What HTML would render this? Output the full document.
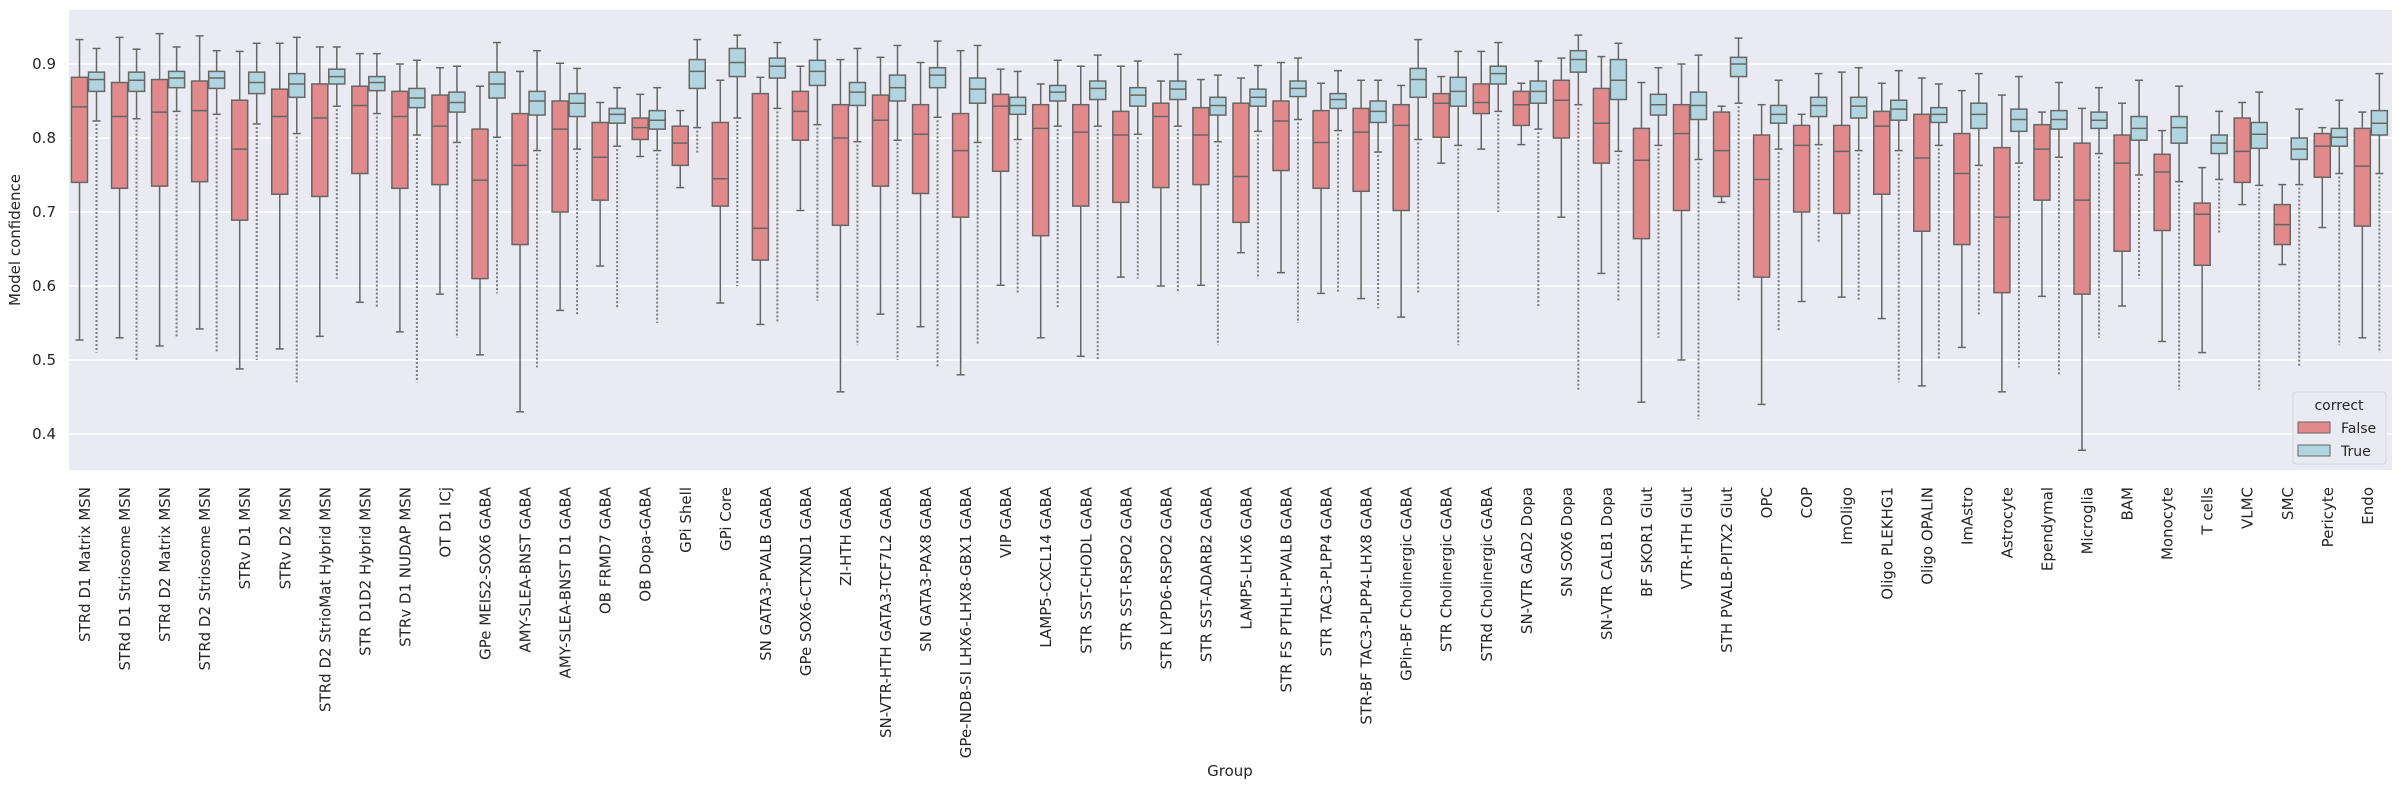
<!DOCTYPE html>
<html><head><meta charset="utf-8"><style>
html,body{margin:0;padding:0;background:#fff;}
svg{display:block;font-family:"DejaVu Sans","Liberation Sans",sans-serif;}
</style></head><body>
<svg id="chart" width="2403" height="792" viewBox="0 0 2403 792" xmlns="http://www.w3.org/2000/svg">
<rect x="69" y="10" width="2323" height="460" fill="#eaeaf2"/>
<g id="grid"></g><g id="yticks"></g><g id="boxes"></g><g id="xticks"></g>
<text x="20" y="240" font-size="15" fill="#262626" text-anchor="middle" transform="rotate(-90 20 240)">Model confidence</text>
<text x="1230" y="776" font-size="15" fill="#262626" text-anchor="middle">Group</text>
<g>
<rect x="2293" y="392" width="93" height="72" rx="3" fill="#eaeaf2" stroke="#d6d6de"/>
<text x="2339" y="410" font-size="14" fill="#262626" text-anchor="middle">correct</text>
<rect x="2298" y="422" width="32" height="11" fill="#e28a8b" stroke="#666"/>
<text x="2341" y="433" font-size="14" fill="#262626">False</text>
<rect x="2298" y="445" width="32" height="11" fill="#b0d5df" stroke="#666"/>
<text x="2341" y="456" font-size="14" fill="#262626">True</text>
</g>
</svg>
<script>
const categories = ["STRd D1 Matrix MSN","STRd D1 Striosome MSN","STRd D2 Matrix MSN","STRd D2 Striosome MSN","STRv D1 MSN","STRv D2 MSN","STRd D2 StrioMat Hybrid MSN","STR D1D2 Hybrid MSN","STRv D1 NUDAP MSN","OT D1 ICj","GPe MEIS2-SOX6 GABA","AMY-SLEA-BNST GABA","AMY-SLEA-BNST D1 GABA","OB FRMD7 GABA","OB Dopa-GABA","GPi Shell","GPi Core","SN GATA3-PVALB GABA","GPe SOX6-CTXND1 GABA","ZI-HTH GABA","SN-VTR-HTH GATA3-TCF7L2 GABA","SN GATA3-PAX8 GABA","GPe-NDB-SI LHX6-LHX8-GBX1 GABA","VIP GABA","LAMP5-CXCL14 GABA","STR SST-CHODL GABA","STR SST-RSPO2 GABA","STR LYPD6-RSPO2 GABA","STR SST-ADARB2 GABA","LAMP5-LHX6 GABA","STR FS PTHLH-PVALB GABA","STR TAC3-PLPP4 GABA","STR-BF TAC3-PLPP4-LHX8 GABA","GPin-BF Cholinergic GABA","STR Cholinergic GABA","STRd Cholinergic GABA","SN-VTR GAD2 Dopa","SN SOX6 Dopa","SN-VTR CALB1 Dopa","BF SKOR1 Glut","VTR-HTH Glut","STH PVALB-PITX2 Glut","OPC","COP","ImOligo","Oligo PLEKHG1","Oligo OPALIN","ImAstro","Astrocyte","Ependymal","Microglia","BAM","Monocyte","T cells","VLMC","SMC","Pericyte","Endo"];
const yTicks = [0.4,0.5,0.6,0.7,0.8,0.9];
const falseLo  = [0.527,0.530,0.519,0.542,0.488,0.515,0.532,0.578,0.538,0.589,0.507,0.430,0.567,0.627,0.775,0.733,0.577,0.548,0.702,0.457,0.562,0.545,0.480,0.601,0.530,0.505,0.612,0.600,0.601,0.645,0.618,0.590,0.583,0.558,0.766,0.785,0.791,0.693,0.617,0.443,0.500,0.713,0.440,0.579,0.585,0.556,0.465,0.517,0.457,0.586,0.378,0.573,0.525,0.510,0.710,0.629,0.679,0.530];
const falseQ1  = [0.740,0.732,0.735,0.741,0.689,0.724,0.721,0.752,0.732,0.737,0.610,0.656,0.700,0.716,0.798,0.763,0.708,0.635,0.797,0.682,0.735,0.725,0.693,0.755,0.668,0.708,0.713,0.733,0.737,0.686,0.756,0.732,0.728,0.702,0.801,0.833,0.817,0.800,0.766,0.664,0.702,0.721,0.612,0.700,0.698,0.724,0.674,0.656,0.591,0.716,0.589,0.647,0.675,0.628,0.740,0.656,0.747,0.681];
const falseMed = [0.842,0.829,0.835,0.837,0.785,0.829,0.827,0.844,0.829,0.816,0.743,0.763,0.812,0.774,0.814,0.793,0.745,0.678,0.836,0.800,0.824,0.805,0.783,0.843,0.813,0.808,0.804,0.829,0.804,0.748,0.823,0.794,0.808,0.817,0.847,0.848,0.845,0.851,0.820,0.770,0.806,0.783,0.744,0.790,0.782,0.816,0.773,0.752,0.693,0.785,0.716,0.766,0.754,0.697,0.782,0.683,0.789,0.762];
const falseQ3  = [0.882,0.875,0.879,0.877,0.851,0.866,0.873,0.870,0.863,0.858,0.812,0.833,0.850,0.821,0.827,0.816,0.821,0.860,0.863,0.845,0.858,0.845,0.833,0.859,0.845,0.845,0.836,0.847,0.841,0.847,0.850,0.837,0.840,0.845,0.860,0.873,0.863,0.878,0.867,0.813,0.845,0.835,0.804,0.817,0.817,0.836,0.832,0.806,0.787,0.818,0.793,0.804,0.778,0.712,0.827,0.710,0.806,0.813];
const falseHi  = [0.933,0.936,0.941,0.938,0.917,0.928,0.923,0.914,0.900,0.895,0.870,0.890,0.901,0.848,0.859,0.837,0.878,0.882,0.897,0.906,0.909,0.902,0.918,0.893,0.873,0.897,0.897,0.877,0.879,0.881,0.902,0.874,0.878,0.871,0.883,0.917,0.874,0.908,0.910,0.875,0.900,0.843,0.845,0.832,0.889,0.874,0.881,0.864,0.858,0.835,0.840,0.847,0.810,0.760,0.848,0.737,0.814,0.835];
const trueLo   = [0.823,0.826,0.836,0.832,0.819,0.806,0.843,0.833,0.804,0.794,0.801,0.783,0.785,0.789,0.783,0.814,0.827,0.840,0.818,0.795,0.797,0.828,0.794,0.798,0.816,0.816,0.805,0.816,0.795,0.809,0.825,0.810,0.781,0.798,0.790,0.836,0.812,0.845,0.782,0.790,0.771,0.847,0.785,0.791,0.783,0.783,0.790,0.763,0.766,0.774,0.779,0.750,0.741,0.744,0.736,0.737,0.752,0.752];
const trueQ1   = [0.863,0.863,0.868,0.867,0.860,0.855,0.873,0.864,0.841,0.835,0.854,0.831,0.829,0.820,0.812,0.867,0.883,0.881,0.871,0.844,0.850,0.868,0.847,0.832,0.850,0.852,0.843,0.852,0.831,0.843,0.856,0.840,0.821,0.855,0.843,0.873,0.847,0.889,0.852,0.831,0.825,0.883,0.820,0.829,0.827,0.824,0.821,0.813,0.809,0.812,0.813,0.797,0.793,0.779,0.786,0.771,0.789,0.804];
const trueMed  = [0.879,0.878,0.881,0.881,0.875,0.873,0.883,0.875,0.854,0.848,0.873,0.850,0.847,0.832,0.824,0.890,0.902,0.897,0.890,0.862,0.868,0.885,0.866,0.844,0.862,0.867,0.858,0.866,0.844,0.855,0.867,0.852,0.836,0.879,0.863,0.887,0.863,0.906,0.878,0.845,0.844,0.900,0.832,0.844,0.843,0.839,0.832,0.832,0.825,0.825,0.824,0.813,0.814,0.793,0.805,0.785,0.801,0.820];
const trueQ3   = [0.889,0.889,0.890,0.890,0.889,0.887,0.893,0.883,0.867,0.862,0.889,0.863,0.860,0.840,0.837,0.906,0.921,0.908,0.905,0.875,0.885,0.895,0.881,0.855,0.871,0.877,0.868,0.877,0.855,0.866,0.877,0.860,0.850,0.894,0.882,0.897,0.877,0.918,0.906,0.859,0.862,0.909,0.844,0.855,0.855,0.851,0.841,0.847,0.839,0.837,0.835,0.829,0.829,0.804,0.821,0.800,0.813,0.837];
const trueHi   = [0.921,0.920,0.923,0.918,0.928,0.936,0.923,0.914,0.905,0.897,0.929,0.918,0.894,0.868,0.868,0.933,0.939,0.929,0.933,0.921,0.925,0.931,0.925,0.890,0.905,0.912,0.904,0.913,0.885,0.898,0.908,0.891,0.878,0.933,0.917,0.929,0.904,0.939,0.928,0.895,0.912,0.935,0.878,0.887,0.895,0.891,0.873,0.887,0.883,0.875,0.868,0.878,0.870,0.836,0.862,0.839,0.851,0.887];
const trueOutlierMin = [0.51,0.50,0.53,0.51,0.50,0.47,0.61,0.57,0.47,0.53,0.59,0.49,0.56,0.57,0.55,0.78,0.60,0.55,0.58,0.52,0.50,0.49,0.52,0.59,0.57,0.50,0.61,0.59,0.52,0.61,0.55,0.59,0.57,0.59,0.52,0.70,0.57,0.46,0.58,0.53,0.42,0.58,0.54,0.66,0.58,0.47,0.50,0.56,0.49,0.48,0.53,0.61,0.46,0.67,0.46,0.49,0.52,0.51];

const NS="http://www.w3.org/2000/svg";
const X0=69, CW=40.05;
function yScale(v){ return 64 + (0.9 - v) * 740; }
function xCenter(i){ return 88 + CW * i; }
function mk(tag, attrs, parent){ const e=document.createElementNS(NS,tag); for(const k in attrs) e.setAttribute(k, attrs[k]); parent.appendChild(e); return e; }

const grid=document.getElementById('grid'), yt=document.getElementById('yticks');
yTicks.forEach(t=>{
  const y=yScale(t);
  const l=mk('line',{x1:X0,x2:2392,y1:y,y2:y,stroke:'#fff','stroke-width':1.6},grid);
  
  
  const tx=mk('text',{x:56,y:y+5,'font-size':15,fill:'#262626','text-anchor':'end'},yt);
  tx.textContent=t.toFixed(1);
  
  
});

const boxes=document.getElementById('boxes');
function drawBox(g, x0, w, lo, q1, med, q3, hi, fill, omin){
  const cx=x0+w/2, st='#666';
  if(omin!==null && omin<lo){
    const ol=mk('line',{x1:cx,x2:cx,y1:yScale(lo)+3,y2:yScale(omin),stroke:'#7a7a7a','stroke-width':2,'stroke-dasharray':'2 2'},g);
    
    
  }
  mk('line',{x1:cx,x2:cx,y1:yScale(hi),y2:yScale(q3),stroke:st,'stroke-width':1.5},g);
  mk('line',{x1:cx,x2:cx,y1:yScale(q1),y2:yScale(lo),stroke:st,'stroke-width':1.5},g);
  mk('line',{x1:cx-4,x2:cx+4,y1:yScale(hi),y2:yScale(hi),stroke:st,'stroke-width':1.5},g);
  mk('line',{x1:cx-4,x2:cx+4,y1:yScale(lo),y2:yScale(lo),stroke:st,'stroke-width':1.5},g);
  const r=mk('rect',{x:x0,y:yScale(q3),width:w,height:yScale(q1)-yScale(q3),fill:fill,stroke:st,'stroke-width':1.5},g);
  
  
  mk('line',{x1:x0,x2:x0+w,y1:yScale(med),y2:yScale(med),stroke:st,'stroke-width':1.5},g);
}
const xt=document.getElementById('xticks');
categories.forEach((c,i)=>{
  const cx=xCenter(i);
  const gf=mk('g',{},boxes);
  
  
  drawBox(gf, cx-16.5, 16, falseLo[i], falseQ1[i], falseMed[i], falseQ3[i], falseHi[i], '#e28a8b', null);
  const gt=mk('g',{},boxes);
  
  
  drawBox(gt, cx+0.5, 16, trueLo[i], trueQ1[i], trueMed[i], trueQ3[i], trueHi[i], '#b0d5df', trueOutlierMin[i]);
  const tx=mk('text',{x:0,y:0,'font-size':15,fill:'#262626','text-anchor':'end',transform:'translate('+(cx+2)+',487) rotate(-90)'},xt);
  tx.textContent=c;
  
  
});
</script>
</body></html>
